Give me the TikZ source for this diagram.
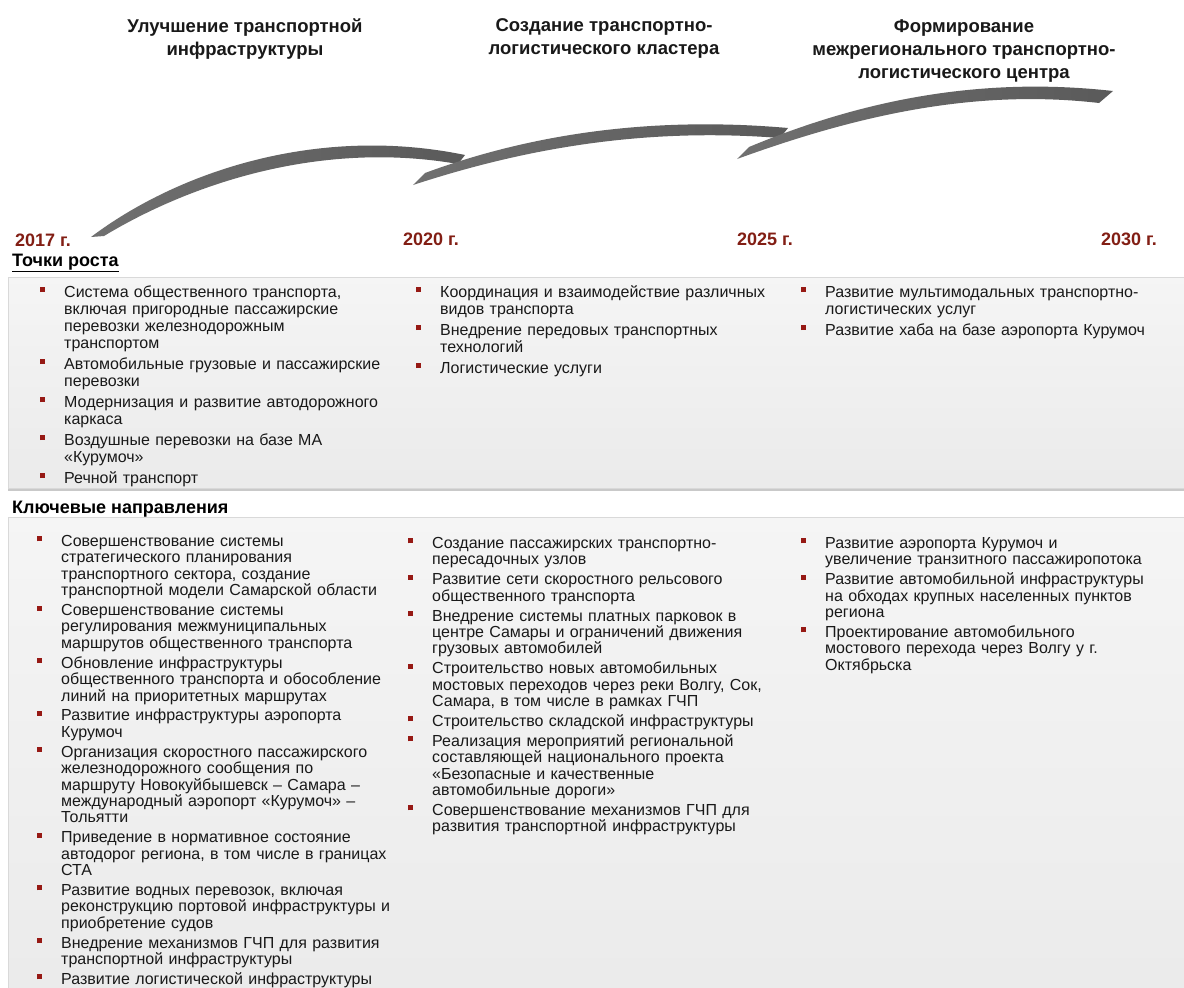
\documentclass[tikz,border=0pt]{standalone}
\usepackage{fontspec}
\setmainfont{Liberation Sans}
\usepackage{enumitem}
\usetikzlibrary{shadows}

\definecolor{jahrrot}{RGB}{130,30,20}
\definecolor{punktrot}{RGB}{150,25,20}
\definecolor{pfeilgrau}{RGB}{90,90,90}
\definecolor{pfeilhell}{RGB}{112,112,112}

% Aufzaehlung mit roten Quadraten
\newcommand{\quadrat}{\textcolor{punktrot}{\rule[5pt]{5pt}{5pt}}}
\newlist{punkte}{itemize}{1}
\setlist[punkte]{label=\quadrat, leftmargin=24pt, labelwidth=5pt, labelsep=19pt,
  align=left, topsep=0pt, partopsep=0pt, parsep=0pt, itemsep=4pt}

\tikzset{
  titel/.style={font=\bfseries\fontsize{18.5}{23}\selectfont, align=center, inner sep=0, text=black!90, anchor=north},
  jahr/.style={font=\bfseries\fontsize{18}{20}\selectfont, text=jahrrot, inner sep=0, anchor=base west},
  rubrik/.style={font=\bfseries\fontsize{18}{20}\selectfont, inner sep=0, anchor=base west},
  feld/.style={draw=gray!30, top color=gray!8, bottom color=gray!16,
    drop shadow={shadow xshift=0pt, shadow yshift=-3pt, fill=gray!70, opacity=.6}},
  spalte/.style={inner sep=0, anchor=base west, text width=400pt, align=left,
    text=black!90, font=\fontsize{16}{17}\selectfont},
  pfeil/.style={left color=pfeilhell, right color=pfeilgrau, draw=none}
}

\begin{document}
\begin{tikzpicture}[x=1pt, y=-1pt]
  \useasboundingbox (0,0) rectangle (1184,988);
  \fill[white] (0,0) rectangle (1184,988);
  \clip (0,0) rectangle (1184,988);

  % Etappen
  \node[titel] (etappe1) at (245,19) {Улучшение транспортной\\ инфраструктуры};
  \node[titel] (etappe2) at (604,18) {Создание транспортно-\\ логистического кластера};
  \node[titel] (etappe3) at (964,19) {Формирование\\ межрегионального транспортно-\\ логистического центра};

  % Pfeile
  \path[pfeil] (91,237) .. controls (180,170) and (320,125) .. (465,155)
    -- (458,164) .. controls (320,140) and (190,184) .. (104,236) -- cycle;
  \path[pfeil] (413,185) -- (425,173) .. controls (520,138) and (640,115) .. (788,128)
    -- (780,138) .. controls (640,127) and (520,150) .. cycle;
  \path[pfeil] (737,159) -- (749,147) .. controls (850,105) and (970,75) .. (1113,91)
    -- (1099,103) .. controls (970,88) and (850,118) .. cycle;

  % Jahre
  \node[jahr] (j2017) at (15,246) {2017 г.};
  \node[jahr] (j2020) at (403,245) {2020 г.};
  \node[jahr] (j2025) at (737,245) {2025 г.};
  \node[jahr] (j2030) at (1101,245) {2030 г.};

  % Punkte des Wachstums
  \node[rubrik] (wachstum) at (12,266) {\underline{Точки роста}};
  \path[feld] (8,277) rectangle (1200,488);

  \node[spalte] (w1) at (40,280) {\begin{punkte}
    \item Система общественного транспорта,\\ включая пригородные пассажирские\\ перевозки железнодорожным\\ транспортом
    \item Автомобильные грузовые и пассажирские\\ перевозки
    \item Модернизация и развитие автодорожного\\ каркаса
    \item Воздушные перевозки на базе МА\\ «Курумоч»
    \item Речной транспорт
  \end{punkte}};
  \node[spalte] (w2) at (416,280) {\begin{punkte}
    \item Координация и взаимодействие различных\\ видов транспорта
    \item Внедрение передовых транспортных\\ технологий
    \item Логистические услуги
  \end{punkte}};
  \node[spalte] (w3) at (801,280) {\begin{punkte}
    \item Развитие мультимодальных транспортно-\\ логистических услуг
    \item Развитие хаба на базе аэропорта Курумоч
  \end{punkte}};

  % Schluesselrichtungen
  \node[rubrik] (richtung) at (12,513) {\underline{Ключевые направления}};
  \path[feld] (8,517) rectangle (1200,1000);

  \node[spalte, font=\fontsize{16}{16.4}\selectfont] (r1) at (37,530) {\begin{punkte}[itemsep=3.5pt]
    \item Совершенствование системы\\ стратегического планирования\\ транспортного сектора, создание\\ транспортной модели Самарской области
    \item Совершенствование системы\\ регулирования межмуниципальных\\ маршрутов общественного транспорта
    \item Обновление инфраструктуры\\ общественного транспорта и обособление\\ линий на приоритетных маршрутах
    \item Развитие инфраструктуры аэропорта\\ Курумоч
    \item Организация скоростного пассажирского\\ железнодорожного сообщения по\\ маршруту Новокуйбышевск – Самара –\\ международный аэропорт «Курумоч» –\\ Тольятти
    \item Приведение в нормативное состояние\\ автодорог региона, в том числе в границах\\ СТА
    \item Развитие водных перевозок, включая\\ реконструкцию портовой инфраструктуры и\\ приобретение судов
    \item Внедрение механизмов ГЧП для развития\\ транспортной инфраструктуры
    \item Развитие логистической инфраструктуры
  \end{punkte}};
  \node[spalte, font=\fontsize{16}{16.4}\selectfont] (r2) at (408,532) {\begin{punkte}[itemsep=3.5pt]
    \item Создание пассажирских транспортно-\\ пересадочных узлов
    \item Развитие сети скоростного рельсового\\ общественного транспорта
    \item Внедрение системы платных парковок в\\ центре Самары и ограничений движения\\ грузовых автомобилей
    \item Строительство новых автомобильных\\ мостовых переходов через реки Волгу, Сок,\\ Самара, в том числе в рамках ГЧП
    \item Строительство складской инфраструктуры
    \item Реализация мероприятий региональной\\ составляющей национального проекта\\ «Безопасные и качественные\\ автомобильные дороги»
    \item Совершенствование механизмов ГЧП для\\ развития транспортной инфраструктуры
  \end{punkte}};
  \node[spalte, font=\fontsize{16}{16.4}\selectfont] (r3) at (801,532) {\begin{punkte}[itemsep=3.5pt]
    \item Развитие аэропорта Курумоч и\\ увеличение транзитного пассажиропотока
    \item Развитие автомобильной инфраструктуры\\ на обходах крупных населенных пунктов\\ региона
    \item Проектирование автомобильного\\ мостового перехода через Волгу у г.\\ Октябрьска
  \end{punkte}};
\end{tikzpicture}
\end{document}
